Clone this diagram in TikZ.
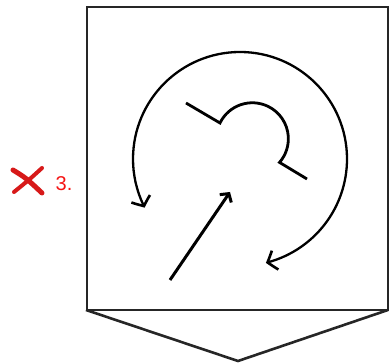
\documentclass[tikz,border=0pt]{standalone}
\usepackage{fontspec}
\setmainfont{Liberation Sans}
\usetikzlibrary{arrows.meta,bending}
\begin{document}
\begin{tikzpicture}[x=1pt,y=1pt,
  frame/.style={draw=black!85,line width=2.6pt},
  circarrow/.style={draw=black,line width=2.3pt,-{Straight Barb[length=8pt,width=20pt,line width=2.6pt,bend]}},
  mainarrow/.style={draw=black,line width=3pt,-{Straight Barb[length=6pt,width=14pt,line width=3pt]}},
  handset/.style={draw=black,line width=2.8pt,line join=miter},
  crossmark/.style={draw={rgb,255:red,215;green,25;blue,25},line width=5pt,line cap=round},
  lbl/.style={text={rgb,255:red,245;green,20;blue,20},font=\fontsize{20}{20}\selectfont,inner sep=0pt}]
\useasboundingbox (0,0) rectangle (389,364);
% frame
\coordinate (bl) at (87,54);
\coordinate (tr) at (388,357);
\draw[frame] (bl) rectangle (tr);
% pointer triangle
\coordinate (t1) at (86,54);
\coordinate (t2) at (238,3);
\coordinate (t3) at (388,54);
\draw[frame,line join=miter] (t1) -- (t2) -- (t3);
% circular arrows
\coordinate (top) at (240,312);
\draw[circarrow] (top) arc[start angle=90,end angle=207,radius=107];
\draw[circarrow] (top) arc[start angle=90,end angle=-76,radius=107];
% handset shape
\coordinate (h1) at (186,261);
\coordinate (h2) at (220,241);
\coordinate (h3) at (280,203);
\coordinate (h4) at (307,185);
\draw[handset] (h1) -- (h2) arc[start angle=154,end angle=-41,radius=36] -- (h4);
% diagonal arrow
\coordinate (a1) at (170,84);
\coordinate (a2) at (230,172);
\draw[mainarrow] (a1) -- (a2);
% red cross and label
\coordinate (x1) at (13,194);
\coordinate (x2) at (42,171);
\coordinate (x3) at (42,196);
\coordinate (x4) at (14,172);
\draw[crossmark] (x1) .. controls (26,186) .. (x2);
\draw[crossmark,line width=4pt] (x3) .. controls (30,185) .. (x4);
\node[lbl] (lab) at (64,180) {3.};
\end{tikzpicture}
\end{document}
